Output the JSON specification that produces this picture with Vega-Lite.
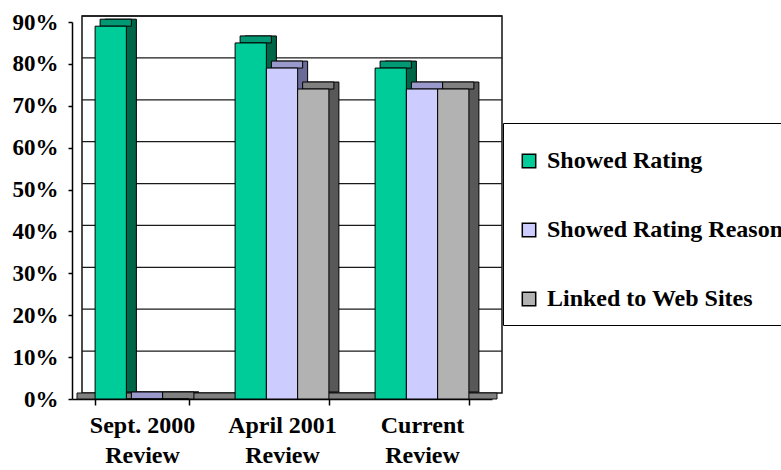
{
  "$schema": "https://vega.github.io/schema/vega-lite/v6.json",
  "width": 420,
  "height": 377,
  "autosize": {"type": "none"},
  "padding": {"left": 72, "top": 22, "right": 289, "bottom": 71},
  "background": "white",
  "config": {
    "view": {"stroke": null},
    "axis": {"grid": false},
    "axisY": {
      "domainColor": "black", "domainWidth": 1.5,
      "tickColor": "black", "tickSize": 4, "tickWidth": 1.5,
      "labelFont": "Liberation Serif", "labelFontWeight": "bold",
      "labelFontSize": 23, "labelColor": "black", "labelPadding": 10
    },
    "axisX": {
      "domainColor": "black", "domainWidth": 1.5,
      "tickColor": "black", "tickSize": 6, "tickWidth": 1.5,
      "labelAngle": 0,
      "labelFont": "Liberation Serif", "labelFontWeight": "bold",
      "labelFontSize": 24, "labelColor": "black",
      "labelLineHeight": 30, "labelPadding": 8
    }
  },
  "datasets": {
    "reviews": [
      {"review": "Sept. 2000 Review", "series": "Showed Rating", "value": 0.89},
      {"review": "Sept. 2000 Review", "series": "Showed Rating Reasons", "value": 0},
      {"review": "Sept. 2000 Review", "series": "Linked to Web Sites", "value": 0},
      {"review": "April 2001 Review", "series": "Showed Rating", "value": 0.85},
      {"review": "April 2001 Review", "series": "Showed Rating Reasons", "value": 0.79},
      {"review": "April 2001 Review", "series": "Linked to Web Sites", "value": 0.74},
      {"review": "Current Review", "series": "Showed Rating", "value": 0.79},
      {"review": "Current Review", "series": "Showed Rating Reasons", "value": 0.74},
      {"review": "Current Review", "series": "Linked to Web Sites", "value": 0.74}
    ],
    "ticks": [
      {"level": 0.1}, {"level": 0.2}, {"level": 0.3}, {"level": 0.4}, {"level": 0.5},
      {"level": 0.6}, {"level": 0.7}, {"level": 0.8}, {"level": 0.9}
    ],
    "frame": [{"top": 0.9, "base": 0}]
  },
  "layer": [
    {
      "data": {"name": "frame"},
      "mark": {"type": "rect", "fill": "white", "stroke": "#111", "strokeWidth": 1.5, "xOffset": 10, "x2Offset": 10, "yOffset": -6, "y2Offset": -6},
      "encoding": {
        "x": {"value": 0},
        "x2": {"value": "width"},
        "y": {
          "field": "top", "type": "quantitative", "title": null,
          "scale": {"domain": [0, 0.9], "nice": false},
          "axis": {"values": [0, 0.1, 0.2, 0.3, 0.4, 0.5, 0.6, 0.7, 0.8, 0.9], "format": ".0%"}
        },
        "y2": {"field": "base"}
      }
    },
    {
      "data": {"name": "ticks"},
      "mark": {"type": "rule", "color": "#1a1a1a", "strokeWidth": 1.3, "xOffset": 10, "x2Offset": 10, "yOffset": -6, "y2Offset": -6},
      "encoding": {
        "x": {"value": 0},
        "x2": {"value": "width"},
        "y": {"field": "level", "type": "quantitative", "title": null},
        "y2": {"field": "level"}
      }
    },
    {
      "data": {"name": "frame"},
      "mark": {"type": "rect", "fill": "#808080", "stroke": "#111", "strokeWidth": 1, "xOffset": 5, "x2Offset": 5, "yOffset": -6},
      "encoding": {
        "x": {"value": 0},
        "x2": {"value": "width"},
        "y": {"field": "base", "type": "quantitative", "title": null},
        "y2": {"field": "base"}
      }
    },
    {
      "data": {"name": "reviews"},
      "mark": {"type": "bar", "stroke": "black", "strokeWidth": 1, "yOffset": -7, "y2Offset": -7},
      "encoding": {
        "x": {
          "field": "review", "type": "nominal", "sort": null, "title": null,
          "scale": {"paddingInner": 0.33, "paddingOuter": 0.165},
          "axis": {
            "tickBand": "extent",
            "labelExpr": "length(datum.label) > 7 ? [slice(datum.label, 0, -7), 'Review'] : ''"
          }
        },
        "xOffset": {"field": "series", "scale": {"domain": ["Showed Rating", "Showed Rating Reasons", "Linked to Web Sites"], "range": [10, 103.8]}},
        "y": {"field": "value", "type": "quantitative", "title": null},
        "fill": {
          "field": "series",
          "scale": {"domain": ["Showed Rating", "Showed Rating Reasons", "Linked to Web Sites"], "range": ["#006648", "#6a6a99", "#585858"]},
          "legend": null
        }
      }
    },
    {
      "data": {"name": "reviews"},
      "mark": {"type": "bar", "stroke": "black", "strokeWidth": 1, "yOffset": -7},
      "encoding": {
        "x": {"field": "review", "type": "nominal", "sort": null, "title": null},
        "xOffset": {"field": "series", "scale": {"domain": ["Showed Rating", "Showed Rating Reasons", "Linked to Web Sites"], "range": [5, 98.8]}},
        "y": {"field": "value", "type": "quantitative", "title": null},
        "y2": {"field": "value"},
        "fill": {
          "field": "series",
          "scale": {"domain": ["Showed Rating", "Showed Rating Reasons", "Linked to Web Sites"], "range": ["#009973", "#9999cc", "#808080"]},
          "legend": null
        }
      }
    },
    {
      "data": {"name": "reviews"},
      "mark": {"type": "bar", "stroke": "black", "strokeWidth": 1},
      "encoding": {
        "x": {"field": "review", "type": "nominal", "sort": null, "title": null},
        "xOffset": {"field": "series", "scale": {"domain": ["Showed Rating", "Showed Rating Reasons", "Linked to Web Sites"]}},
        "y": {"field": "value", "type": "quantitative", "title": null},
        "fill": {
          "field": "series",
          "scale": {"domain": ["Showed Rating", "Showed Rating Reasons", "Linked to Web Sites"], "range": ["#00cc99", "#ccccff", "#b2b2b2"]},
          "legend": {
            "orient": "none", "legendX": 431, "legendY": 101,
            "title": " ", "titleFontSize": 6, "titlePadding": 6,
            "padding": 14, "fillColor": "white", "strokeColor": "black",
            "symbolType": "square", "symbolSize": 180, "symbolStrokeColor": "black", "symbolStrokeWidth": 1.5,
            "labelFont": "Liberation Serif", "labelFontWeight": "bold", "labelFontSize": 24,
            "labelColor": "black", "labelLimit": 500, "labelOffset": 6, "rowPadding": 45
          }
        }
      }
    }
  ],
  "resolve": {"scale": {"fill": "independent", "xOffset": "independent"}}
}
